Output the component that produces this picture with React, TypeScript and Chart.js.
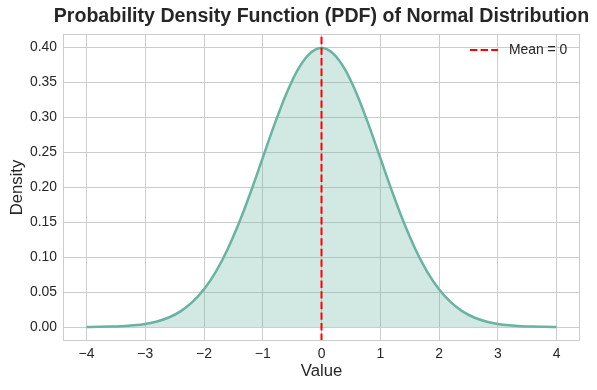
import React, { useEffect, useRef } from "react";
import { Chart, registerables } from "chart.js";

Chart.register(...registerables);

const xValues = [
  -4, -3.8, -3.6, -3.4, -3.2, -3, -2.8, -2.6, -2.4, -2.2, -2, -1.8, -1.6, -1.4, -1.2, -1, -0.8, -0.6, -0.4, -0.2,
  0, 0.2, 0.4, 0.6, 0.8, 1, 1.2, 1.4, 1.6, 1.8, 2, 2.2, 2.4, 2.6, 2.8, 3, 3.2, 3.4, 3.6, 3.8, 4,
];
const pdfValues = [
  0.0001, 0.0003, 0.0006, 0.0012, 0.0024, 0.0044, 0.0079, 0.0136, 0.0224, 0.0355, 0.054, 0.079, 0.1109, 0.1497,
  0.1942, 0.242, 0.2897, 0.3332, 0.3683, 0.391, 0.3989, 0.391, 0.3683, 0.3332, 0.2897, 0.242, 0.1942, 0.1497,
  0.1109, 0.079, 0.054, 0.0355, 0.0224, 0.0136, 0.0079, 0.0044, 0.0024, 0.0012, 0.0006, 0.0003, 0.0001,
];
const meanValue = 0;
const meanLabel = "Mean = 0";
const xTicks = [-4, -3, -2, -1, 0, 1, 2, 3, 4];
const yTicks = [0, 0.05, 0.1, 0.15, 0.2, 0.25, 0.3, 0.35, 0.4];
const xRange = [-4.4, 4.4];
const yRange = [-0.02, 0.419];
const titleText = "Probability Density Function (PDF) of Normal Distribution";

const FONT = "'Liberation Sans', Arial, sans-serif";
const TEXT = "#262626";
const GRID = "#cccccc";
const CURVE = "#69b3a2";
const DASH = [7.4, 3.2];

export default function App() {
  const ref = useRef<HTMLCanvasElement | null>(null);
  useEffect(() => {
    if (!ref.current) return;
    const framePlugin = {
      id: "frameAndExtras",
      afterDraw(chart: any) {
        const { ctx, chartArea: a } = chart;
        ctx.save();
        ctx.strokeStyle = GRID;
        ctx.lineWidth = 1;
        ctx.strokeRect(a.left + 0.5, a.top + 0.5, a.right - a.left - 1, a.bottom - a.top - 1);
        // title
        ctx.fillStyle = TEXT;
        ctx.font = `bold 19.6px ${FONT}`;
        ctx.textAlign = "center";
        ctx.textBaseline = "middle";
        ctx.fillText(titleText, (a.left + a.right) / 2, 17);
        // legend
        const ly = 50;
        ctx.strokeStyle = "red";
        ctx.lineWidth = 2;
        ctx.setLineDash(DASH);
        ctx.beginPath();
        ctx.moveTo(470, ly);
        ctx.lineTo(498, ly);
        ctx.stroke();
        ctx.setLineDash([]);
        ctx.font = `13.9px ${FONT}`;
        ctx.textAlign = "left";
        ctx.fillText(meanLabel, 509, ly);
        ctx.restore();
      },
    };
    const chart = new Chart(ref.current, {
      type: "line",
      data: {
        datasets: [
          {
            label: meanLabel,
            data: [
              { x: meanValue, y: yRange[0] },
              { x: meanValue, y: yRange[1] },
            ],
            borderColor: "red",
            borderWidth: 2,
            borderDash: DASH,
            pointRadius: 0,
            fill: false,
          },
          {
            label: "PDF",
            data: xValues.map((x, i) => ({ x, y: pdfValues[i] })),
            borderColor: CURVE,
            backgroundColor: "rgba(105,179,162,0.3)",
            borderWidth: 2.5,
            pointRadius: 0,
            fill: "origin",
            cubicInterpolationMode: "monotone",
          },
        ],
      },
      options: {
        responsive: false,
        animation: false,
        layout: { padding: { top: 34, right: 17, left: 0, bottom: 0 } },
        plugins: { legend: { display: false }, tooltip: { enabled: false }, title: { display: false } },
        scales: {
          x: {
            type: "linear",
            min: xRange[0],
            max: xRange[1],
            afterBuildTicks: (s: any) => {
              s.ticks = xTicks.map((v) => ({ value: v }));
            },
            afterFit: (s: any) => {
              s.height = 49;
            },
            grid: { color: GRID, lineWidth: 1, drawTicks: false },
            border: { display: false },
            ticks: {
              color: TEXT,
              font: { family: FONT, size: 13.9 },
              padding: 5,
              callback: (v: any) => (Number(v) < 0 ? "\u2212" + Math.abs(Number(v)) : String(v)),
            },
            title: { display: true, text: "Value", color: TEXT, font: { family: FONT, size: 16.7 }, padding: { top: 0, bottom: 9 } },
          },
          y: {
            type: "linear",
            min: yRange[0],
            max: yRange[1],
            afterBuildTicks: (s: any) => {
              s.ticks = yTicks.map((v) => ({ value: v }));
            },
            afterFit: (s: any) => {
              s.width = 63;
            },
            grid: { color: GRID, lineWidth: 1, drawTicks: false },
            border: { display: false },
            ticks: {
              color: TEXT,
              font: { family: FONT, size: 13.9 },
              padding: 6,
              callback: (v: any) => Number(v).toFixed(2),
            },
            title: { display: true, text: "Density", color: TEXT, font: { family: FONT, size: 16.7 }, padding: { top: 7, bottom: 0 } },
          },
        },
      },
      plugins: [framePlugin],
    } as any);
    return () => chart.destroy();
  }, []);
  return (
    <div style={{ position: "fixed", left: 0, top: 0, width: 597, height: 390, background: "#fff" }}>
      <canvas ref={ref} width={597} height={390} />
    </div>
  );
}
